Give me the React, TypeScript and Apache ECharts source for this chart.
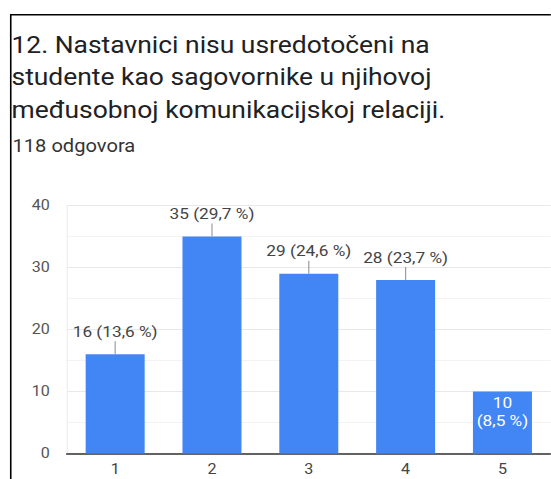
import React, { useEffect, useRef } from "react";
import * as echarts from "echarts";

const categories = ["1", "2", "3", "4", "5"];
const counts = [16, 35, 29, 28, 10];
const percents = ["13,6", "29,7", "24,6", "23,7", "8,5"];
const yTicks = [0, 10, 20, 30, 40];
const titleLines = [
  "12. Nastavnici nisu usredotočeni na",
  "studente kao sagovornike u njihovoj",
  "međusobnoj komunikacijskoj relaciji.",
];
const responses = "118 odgovora";

// The reference is a horizontally stretched screenshot; reproduce with a CSS scaleX.
const STRETCH = 1.15;
const W = 551 / STRETCH;
const sx = (x: number) => x / STRETCH;

export default function App() {
  const ref = useRef<HTMLDivElement>(null);
  useEffect(() => {
    if (!ref.current) return;
    const chart = echarts.init(ref.current, null, { renderer: "svg" });
    const font = "Roboto, 'Noto Sans', sans-serif";
    const insideIdx = counts.length - 1;
    chart.setOption({
      animation: false,
      backgroundColor: "#ffffff",
      title: {
        text: titleLines.join("\n"),
        left: sx(11.5),
        top: 28.5,
        padding: 0,
        textStyle: {
          fontFamily: font,
          fontSize: 23,
          fontWeight: "normal",
          color: "#202124",
          lineHeight: 32.5,
        },
      },
      graphic: [
        {
          type: "text",
          left: sx(12.5),
          top: 137,
          style: {
            text: responses,
            fontFamily: font,
            fontSize: 17.5,
            fill: "#333333",
          },
        },
        {
          type: "line",
          shape: { x1: sx(10), y1: 14.75, x2: W, y2: 14.75 },
          style: { stroke: "#000", lineWidth: 1.5 },
        },
        {
          type: "line",
          shape: { x1: sx(10.75), y1: 14, x2: sx(10.75), y2: 479 },
          style: { stroke: "#000", lineWidth: 1.4 },
        },
      ],
      grid: {
        left: sx(66.75),
        top: 205.5,
        width: sx(487.5),
        height: 248,
        containLabel: false,
      },
      xAxis: {
        type: "category",
        data: categories,
        axisLine: { lineStyle: { color: "#333333", width: 1.5 } },
        axisTick: { show: false },
        axisLabel: { color: "#444444", fontSize: 14, fontFamily: font, margin: 9 },
      },
      yAxis: {
        type: "value",
        min: yTicks[0],
        max: yTicks[yTicks.length - 1],
        interval: 10,
        axisLine: { show: true, lineStyle: { color: "#ececec", width: 1 } },
        axisTick: { show: false },
        axisLabel: { color: "#555555", fontSize: 14, fontFamily: font, margin: sx(17) },
        splitLine: { lineStyle: { color: "#e8e8e8", width: 1 } },
        minorTick: { show: false, splitNumber: 2 },
        minorSplitLine: { show: true, lineStyle: { color: "#f3f3f3", width: 1 } },
      },
      series: [
        {
          type: "bar",
          data: counts.map((v, i) => ({
            value: v,
            label:
              i === insideIdx
                ? {
                    show: true,
                    position: "insideTop",
                    distance: 2,
                    color: "#ffffff",
                    lineHeight: 18,
                    formatter: `${v}\n(${percents[i]} %)`,
                  }
                : {
                    show: true,
                    position: "top",
                    distance: 15,
                    color: "#444444",
                    formatter: `${v} (${percents[i]} %)`,
                  },
          })),
          barWidth: sx(59),
          itemStyle: { color: "#4285f4" },
          label: { fontSize: 15, fontFamily: font },
          z: 2,
        },
        {
          type: "custom",
          data: counts
            .map((v, i) => [i, v])
            .filter((d) => d[0] !== insideIdx),
          encode: { x: 0, y: 1 },
          renderItem: (params: any, api: any) => {
            const p = api.coord([api.value(0), api.value(1)]);
            return {
              type: "line",
              shape: { x1: p[0], y1: p[1], x2: p[0], y2: p[1] - 13 },
              style: { stroke: "#999999", lineWidth: 1 },
            };
          },
          z: 3,
        },
      ],
    });
    return () => chart.dispose();
  }, []);
  return (
    <div
      style={{
        position: "fixed",
        left: 0,
        top: 0,
        width: 551,
        height: 479,
        overflow: "hidden",
        background: "#fff",
      }}
    >
      <div
        ref={ref}
        style={{
          width: W,
          height: 479,
          transform: `scaleX(${STRETCH})`,
          transformOrigin: "0 0",
        }}
      />
    </div>
  );
}
